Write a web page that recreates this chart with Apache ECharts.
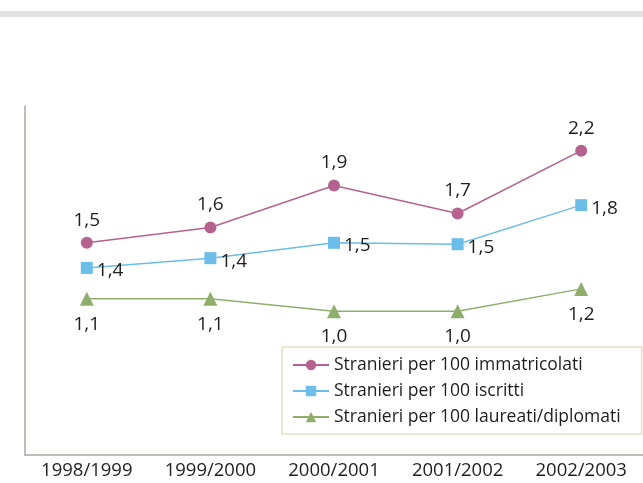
<!DOCTYPE html>
<html>
<head>
<meta charset="utf-8">
<script src="https://cdn.jsdelivr.net/npm/echarts@6/dist/echarts.min.js"></script>
<style>
  html, body { margin: 0; padding: 0; background: #fff; }
  #chart { width: 643px; height: 483px; }
</style>
</head>
<body>
<div id="chart"></div>
<script>
    // anni accademici
    const anni = ['1998/1999', '1999/2000', '2000/2001', '2001/2002', '2002/2003'];
    // valori
    const immatricolati = [1.52, 1.63, 1.93, 1.73, 2.18];
    const iscritti = [1.34, 1.41, 1.52, 1.51, 1.79];
    const laureati = [1.12, 1.12, 1.03, 1.03, 1.19];
    // etichette stampate sui punti
    const etichetteImm = ['1,5', '1,6', '1,9', '1,7', '2,2'];
    const etichetteIscr = ['1,4', '1,4', '1,5', '1,5', '1,8'];
    const etichetteLaur = ['1,1', '1,1', '1,0', '1,0', '1,2'];
    const nomi = ['Stranieri per 100 immatricolati', 'Stranieri per 100 iscritti', 'Stranieri per 100 laureati/diplomati'];

    const font = '"Open Sans", "Noto Sans", sans-serif';

    function serie(nome, valori, etichette, colore, simbolo, size, pos, offset) {
        return {
            name: nome,
            type: 'line',
            data: valori,
            symbol: simbolo,
            symbolSize: size,
            lineStyle: {color: colore, width: 1.5},
            itemStyle: {color: colore},
            label: {
                show: true,
                position: pos,
                distance: pos === 'right' ? 4 : (pos === 'top' ? 7 : 9),
                offset: offset,
                fontFamily: font,
                fontSize: 19,
                color: '#1e1e1e',
                formatter: (p) => etichette[p.dataIndex]
            },
            emphasis: {disabled: true},
            animation: false
        };
    }

    let myChart = echarts.init(document.getElementById('chart'));
    let option = {
        backgroundColor: '#fff',
        graphic: [{
            type: 'rect',
            shape: {x: 0, y: 11, width: 643, height: 6},
            style: {fill: '#e3dfdc'}
        }],
        grid: {
            left: 25,
            right: -1,
            top: 106,
            bottom: 28,
            containLabel: false
        },
        legend: {
            orient: 'vertical',
            left: 282,
            top: 347,
            padding: [9, 21, 8, 10],
            itemGap: 8,
            itemWidth: 36,
            itemHeight: 13,
            backgroundColor: '#fff',
            borderColor: '#e6ddc4',
            borderWidth: 1.5,
            borderRadius: 0,
            textStyle: {fontFamily: font, fontSize: 17.5, color: '#1e1e1e'},
            data: nomi
        },
        xAxis: {
            type: 'category',
            data: anni,
            boundaryGap: true,
            axisLine: {lineStyle: {color: '#a9aaa2', width: 1.5}},
            axisTick: {show: false},
            axisLabel: {fontFamily: font, fontSize: 18.5, color: '#1e1e1e', margin: 6, interval: 0}
        },
        yAxis: {
            type: 'value',
            min: 0,
            max: 2.5,
            axisLine: {show: true, lineStyle: {color: '#a9aaa2', width: 1.5}},
            axisTick: {show: false},
            axisLabel: {show: false},
            splitLine: {show: false}
        },
        series: [
            serie(nomi[0], immatricolati, etichetteImm, '#b5628f', 'circle', 12, 'top', [0, 0]),
            serie(nomi[1], iscritti, etichetteIscr, '#6cbde9', 'rect', 12, 'right', [0, 3]),
            serie(nomi[2], laureati, etichetteLaur, '#8fae6c', 'triangle', 14, 'bottom', [0, 0])
        ]
    };
    myChart.setOption(option);
</script>
</body>
</html>
